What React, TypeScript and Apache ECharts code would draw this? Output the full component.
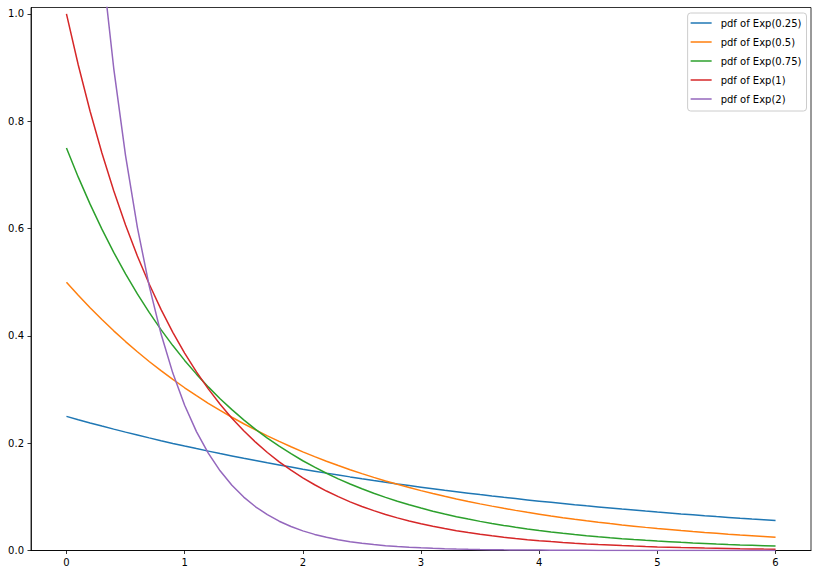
import React, { useEffect, useRef } from "react";
import * as echarts from "echarts";

const xValues = [
  0, 0.1, 0.2, 0.3, 0.4, 0.5, 0.6, 0.7, 0.8, 0.9,
  1, 1.1, 1.2, 1.3, 1.4, 1.5, 1.6, 1.7, 1.8, 1.9,
  2, 2.1, 2.2, 2.3, 2.4, 2.5, 2.6, 2.7, 2.8, 2.9,
  3, 3.1, 3.2, 3.3, 3.4, 3.5, 3.6, 3.7, 3.8, 3.9,
  4, 4.1, 4.2, 4.3, 4.4, 4.5, 4.6, 4.7, 4.8, 4.9,
  5, 5.1, 5.2, 5.3, 5.4, 5.5, 5.6, 5.7, 5.8, 5.9, 6,
];

const exp025 = [
  0.25, 0.2438, 0.2378, 0.2319, 0.2262, 0.2206, 0.2152, 0.2099, 0.2047, 0.1996,
  0.1947, 0.1899, 0.1852, 0.1806, 0.1762, 0.1718, 0.1676, 0.1634, 0.1594, 0.1555,
  0.1516, 0.1479, 0.1442, 0.1407, 0.1372, 0.1338, 0.1305, 0.1273, 0.1241, 0.1211,
  0.1181, 0.1152, 0.1123, 0.1096, 0.1069, 0.1042, 0.1016, 0.0991, 0.0967, 0.0943,
  0.092, 0.0897, 0.0875, 0.0853, 0.0832, 0.0812, 0.0792, 0.0772, 0.0753, 0.0734,
  0.0716, 0.0699, 0.0681, 0.0665, 0.0648, 0.0632, 0.0617, 0.0601, 0.0586, 0.0572, 0.0558,
];

const exp05 = [
  0.5, 0.4756, 0.4524, 0.4304, 0.4094, 0.3894, 0.3704, 0.3523, 0.3352, 0.3188,
  0.3033, 0.2885, 0.2744, 0.261, 0.2483, 0.2362, 0.2247, 0.2137, 0.2033, 0.1934,
  0.1839, 0.175, 0.1664, 0.1583, 0.1506, 0.1433, 0.1363, 0.1296, 0.1233, 0.1173,
  0.1116, 0.1061, 0.101, 0.096, 0.0913, 0.0869, 0.0827, 0.0786, 0.0748, 0.0711,
  0.0677, 0.0644, 0.0612, 0.0582, 0.0554, 0.0527, 0.0501, 0.0477, 0.0454, 0.0431,
  0.041, 0.039, 0.0371, 0.0353, 0.0336, 0.032, 0.0304, 0.0289, 0.0275, 0.0262, 0.0249,
];

const exp075 = [
  0.75, 0.6958, 0.6455, 0.5989, 0.5556, 0.5155, 0.4782, 0.4437, 0.4116, 0.3819,
  0.3543, 0.3287, 0.3049, 0.2829, 0.2625, 0.2435, 0.2259, 0.2096, 0.1944, 0.1804,
  0.1673, 0.1553, 0.144, 0.1336, 0.124, 0.115, 0.1067, 0.099, 0.0918, 0.0852,
  0.0791, 0.0733, 0.068, 0.0631, 0.0586, 0.0543, 0.0504, 0.0468, 0.0434, 0.0402,
  0.0373, 0.0346, 0.0321, 0.0298, 0.0277, 0.0257, 0.0238, 0.0221, 0.0205, 0.019,
  0.0176, 0.0164, 0.0152, 0.0141, 0.0131, 0.0121, 0.0112, 0.0104, 0.0097, 0.009, 0.0083,
];

const exp1 = [
  1.0, 0.9048, 0.8187, 0.7408, 0.6703, 0.6065, 0.5488, 0.4966, 0.4493, 0.4066,
  0.3679, 0.3329, 0.3012, 0.2725, 0.2466, 0.2231, 0.2019, 0.1827, 0.1653, 0.1496,
  0.1353, 0.1225, 0.1108, 0.1003, 0.0907, 0.0821, 0.0743, 0.0672, 0.0608, 0.055,
  0.0498, 0.045, 0.0408, 0.0369, 0.0334, 0.0302, 0.0273, 0.0247, 0.0224, 0.0202,
  0.0183, 0.0166, 0.015, 0.0136, 0.0123, 0.0111, 0.0101, 0.0091, 0.0082, 0.0074,
  0.0067, 0.0061, 0.0055, 0.005, 0.0045, 0.0041, 0.0037, 0.0033, 0.003, 0.0027, 0.0025,
];

const exp2 = [
  2.0, 1.6375, 1.3406, 1.0976, 0.8987, 0.7358, 0.6024, 0.4932, 0.4038, 0.3306,
  0.2707, 0.2216, 0.1814, 0.1485, 0.1216, 0.0996, 0.0815, 0.0667, 0.0546, 0.0447,
  0.0366, 0.03, 0.0246, 0.0201, 0.0165, 0.0135, 0.011, 0.009, 0.0074, 0.0061,
  0.005, 0.0041, 0.0033, 0.0027, 0.0022, 0.0018, 0.0015, 0.0012, 0.001, 0.0008,
  0.0007, 0.0005, 0.0005, 0.0004, 0.0003, 0.0002, 0.0002, 0.0002, 0.0001, 0.0001,
  0.0001, 0.0001, 0.0001, 0.0001, 0.0001, 0.0001, 0.0001, 0.0001, 0, 0, 0,
];

const seriesNames = [
  "pdf of Exp(0.25)",
  "pdf of Exp(0.5)",
  "pdf of Exp(0.75)",
  "pdf of Exp(1)",
  "pdf of Exp(2)",
];
const seriesValues = [exp025, exp05, exp075, exp1, exp2];
const colors = ["#1f77b4", "#ff7f0e", "#2ca02c", "#d62728", "#9467bd"];

const xTicks = [0, 1, 2, 3, 4, 5, 6];
const yTicks = [0, 0.2, 0.4, 0.6, 0.8, 1.0];

export default function App() {
  const ref = useRef<HTMLDivElement>(null);
  useEffect(() => {
    if (!ref.current) return;
    const chart = echarts.init(ref.current, undefined, { renderer: "svg" });
    const font = "DejaVu Sans";
    chart.setOption({
      animation: false,
      backgroundColor: "#ffffff",
      color: colors,
      textStyle: { fontFamily: font, fontSize: 10, color: "#000" },
      grid: {
        left: 31,
        right: 7,
        top: 7.5,
        bottom: 24.5,
        show: true,
        borderColor: "#000",
        borderWidth: 0.8,
        backgroundColor: "transparent",
      },
      legend: {
        show: true,
        orient: "vertical",
        right: 11.5,
        top: 13,
        padding: [4, 5, 6, 3],
        itemGap: 7,
        itemWidth: 21,
        itemHeight: 1.5,
        icon: "rect",
        backgroundColor: "rgba(255,255,255,0.8)",
        borderColor: "#cccccc",
        borderWidth: 1,
        borderRadius: 3,
        textStyle: {
          fontFamily: font,
          fontSize: 10,
          color: "#000",
          lineHeight: 12,
          padding: [0, 0, 0, 4],
        },
        data: seriesNames,
      },
      xAxis: {
        type: "value",
        min: -0.3,
        max: 6.3,
        splitLine: { show: false },
        axisLine: { show: true, onZero: false, lineStyle: { color: "#000", width: 0.8 } },
        axisTick: {
          show: true,
          length: 3.5,
          lineStyle: { color: "#000", width: 0.8 },
          customValues: xTicks,
        },
        axisLabel: {
          show: true,
          margin: 7,
          fontFamily: font,
          fontSize: 10,
          color: "#000",
          customValues: xTicks,
          formatter: (v: number) => String(Math.round(v)),
        },
      },
      yAxis: {
        type: "value",
        min: 0,
        max: 1.012,
        splitLine: { show: false },
        axisLine: { show: true, onZero: false, lineStyle: { color: "#000", width: 0.8 } },
        axisTick: {
          show: true,
          length: 3.5,
          lineStyle: { color: "#000", width: 0.8 },
          customValues: yTicks,
        },
        axisLabel: {
          show: true,
          margin: 7,
          fontFamily: font,
          fontSize: 10,
          color: "#000",
          customValues: yTicks,
          formatter: (v: number) => v.toFixed(1),
        },
      },
      series: seriesNames.map((name, i) => ({
        name,
        type: "line",
        data: xValues.map((x, j) => [x, seriesValues[i][j]]),
        showSymbol: false,
        symbol: "none",
        clip: true,
        lineStyle: { width: 1.5, color: colors[i] },
        itemStyle: { color: colors[i] },
      })),
    });
    return () => chart.dispose();
  }, []);
  return (
    <div
      ref={ref}
      style={{ position: "fixed", left: 0, top: 0, width: 818, height: 575 }}
    />
  );
}
